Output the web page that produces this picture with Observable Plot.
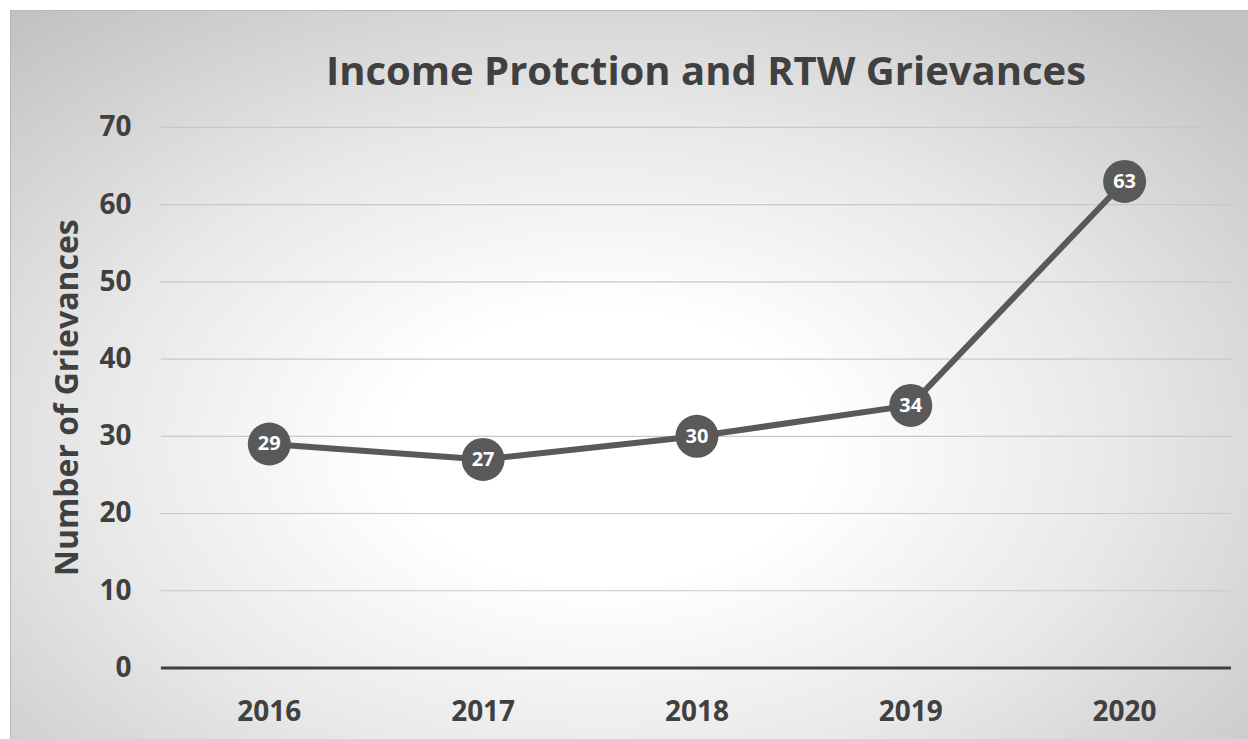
<!DOCTYPE html>
<html>
<head>
<meta charset="utf-8">
<script src="https://cdn.jsdelivr.net/npm/d3@7"></script>
<script src="https://cdn.jsdelivr.net/npm/@observablehq/plot@0.6"></script>
<style>
  html, body { margin: 0; padding: 0; background: #ffffff; width: 1248px; height: 739px; overflow: hidden; }
  #chart {
    position: absolute; left: 10px; top: 10px; width: 1238px; height: 729px;
    box-sizing: border-box; border-top: 1px solid #b8b8b8; border-left: 1px solid #b8b8b8;
    background: radial-gradient(ellipse 72% 78% at 48% 60%, #ffffff 0%, #ffffff 24%, #e8e8e8 58%, #c2c2c2 100%);
    font-family: "Open Sans", sans-serif;
  }
  #title {
    position: absolute; top: 31px; text-align: center;
    font-size: 40px; font-weight: 700; color: #404040; left: 145px; width: 1100px;
  }
  #plot { position: absolute; left: 0; top: 0; }
</style>
</head>
<body>
<div id="chart">
  <div id="plot"></div>
  <div id="title"></div>
</div>
<script>
const years = ["2016", "2017", "2018", "2019", "2020"];
const grievances = [29, 27, 30, 34, 63];
const yTicks = [0, 10, 20, 30, 40, 50, 60, 70];
const titleText = "Income Protction and RTW Grievances";
const yTitle = "Number of Grievances";

const data = years.map((y, i) => ({year: y, value: grievances[i]}));

const plot = Plot.plot({
  width: 1238,
  height: 729,
  marginLeft: 150,
  marginRight: 17,
  marginTop: 116,
  marginBottom: 72,
  style: {background: "transparent", fontFamily: "'Open Sans', sans-serif", color: "#404040"},
  x: {type: "point", domain: years, padding: 0.5, align: 0.5},
  y: {domain: [0, 70], ticks: yTicks},
  marks: [
    Plot.gridY(yTicks.filter(d => d > 0), {stroke: "#c8c8c8", strokeOpacity: 1, strokeWidth: 1.2}),
    Plot.ruleY([0], {stroke: "#404040", strokeWidth: 3}),
    Plot.axisY(yTicks, {tickSize: 0, tickPadding: 30, fontSize: 28, fontWeight: 700, fill: "#404040", label: null}),
    Plot.axisY([], {tickSize: 0, fontSize: 32, fontWeight: 700, fill: "#404040",
      label: yTitle, labelAnchor: "center", labelArrow: "none", labelOffset: 106}),
    Plot.axisX(years, {tickSize: 0, tickPadding: 33, fontSize: 28, fontWeight: 700, fill: "#404040", label: null}),
    Plot.line(data, {x: "year", y: "value", stroke: "#595959", strokeWidth: 6}),
    Plot.dot(data, {x: "year", y: "value", r: 21.5, fill: "#595959", stroke: null}),
    Plot.text(data, {x: "year", y: "value", text: d => String(d.value), fill: "white", fontSize: 20, fontWeight: 700})
  ]
});
document.getElementById("plot").appendChild(plot);
document.getElementById("title").textContent = titleText;
</script>
</body>
</html>
